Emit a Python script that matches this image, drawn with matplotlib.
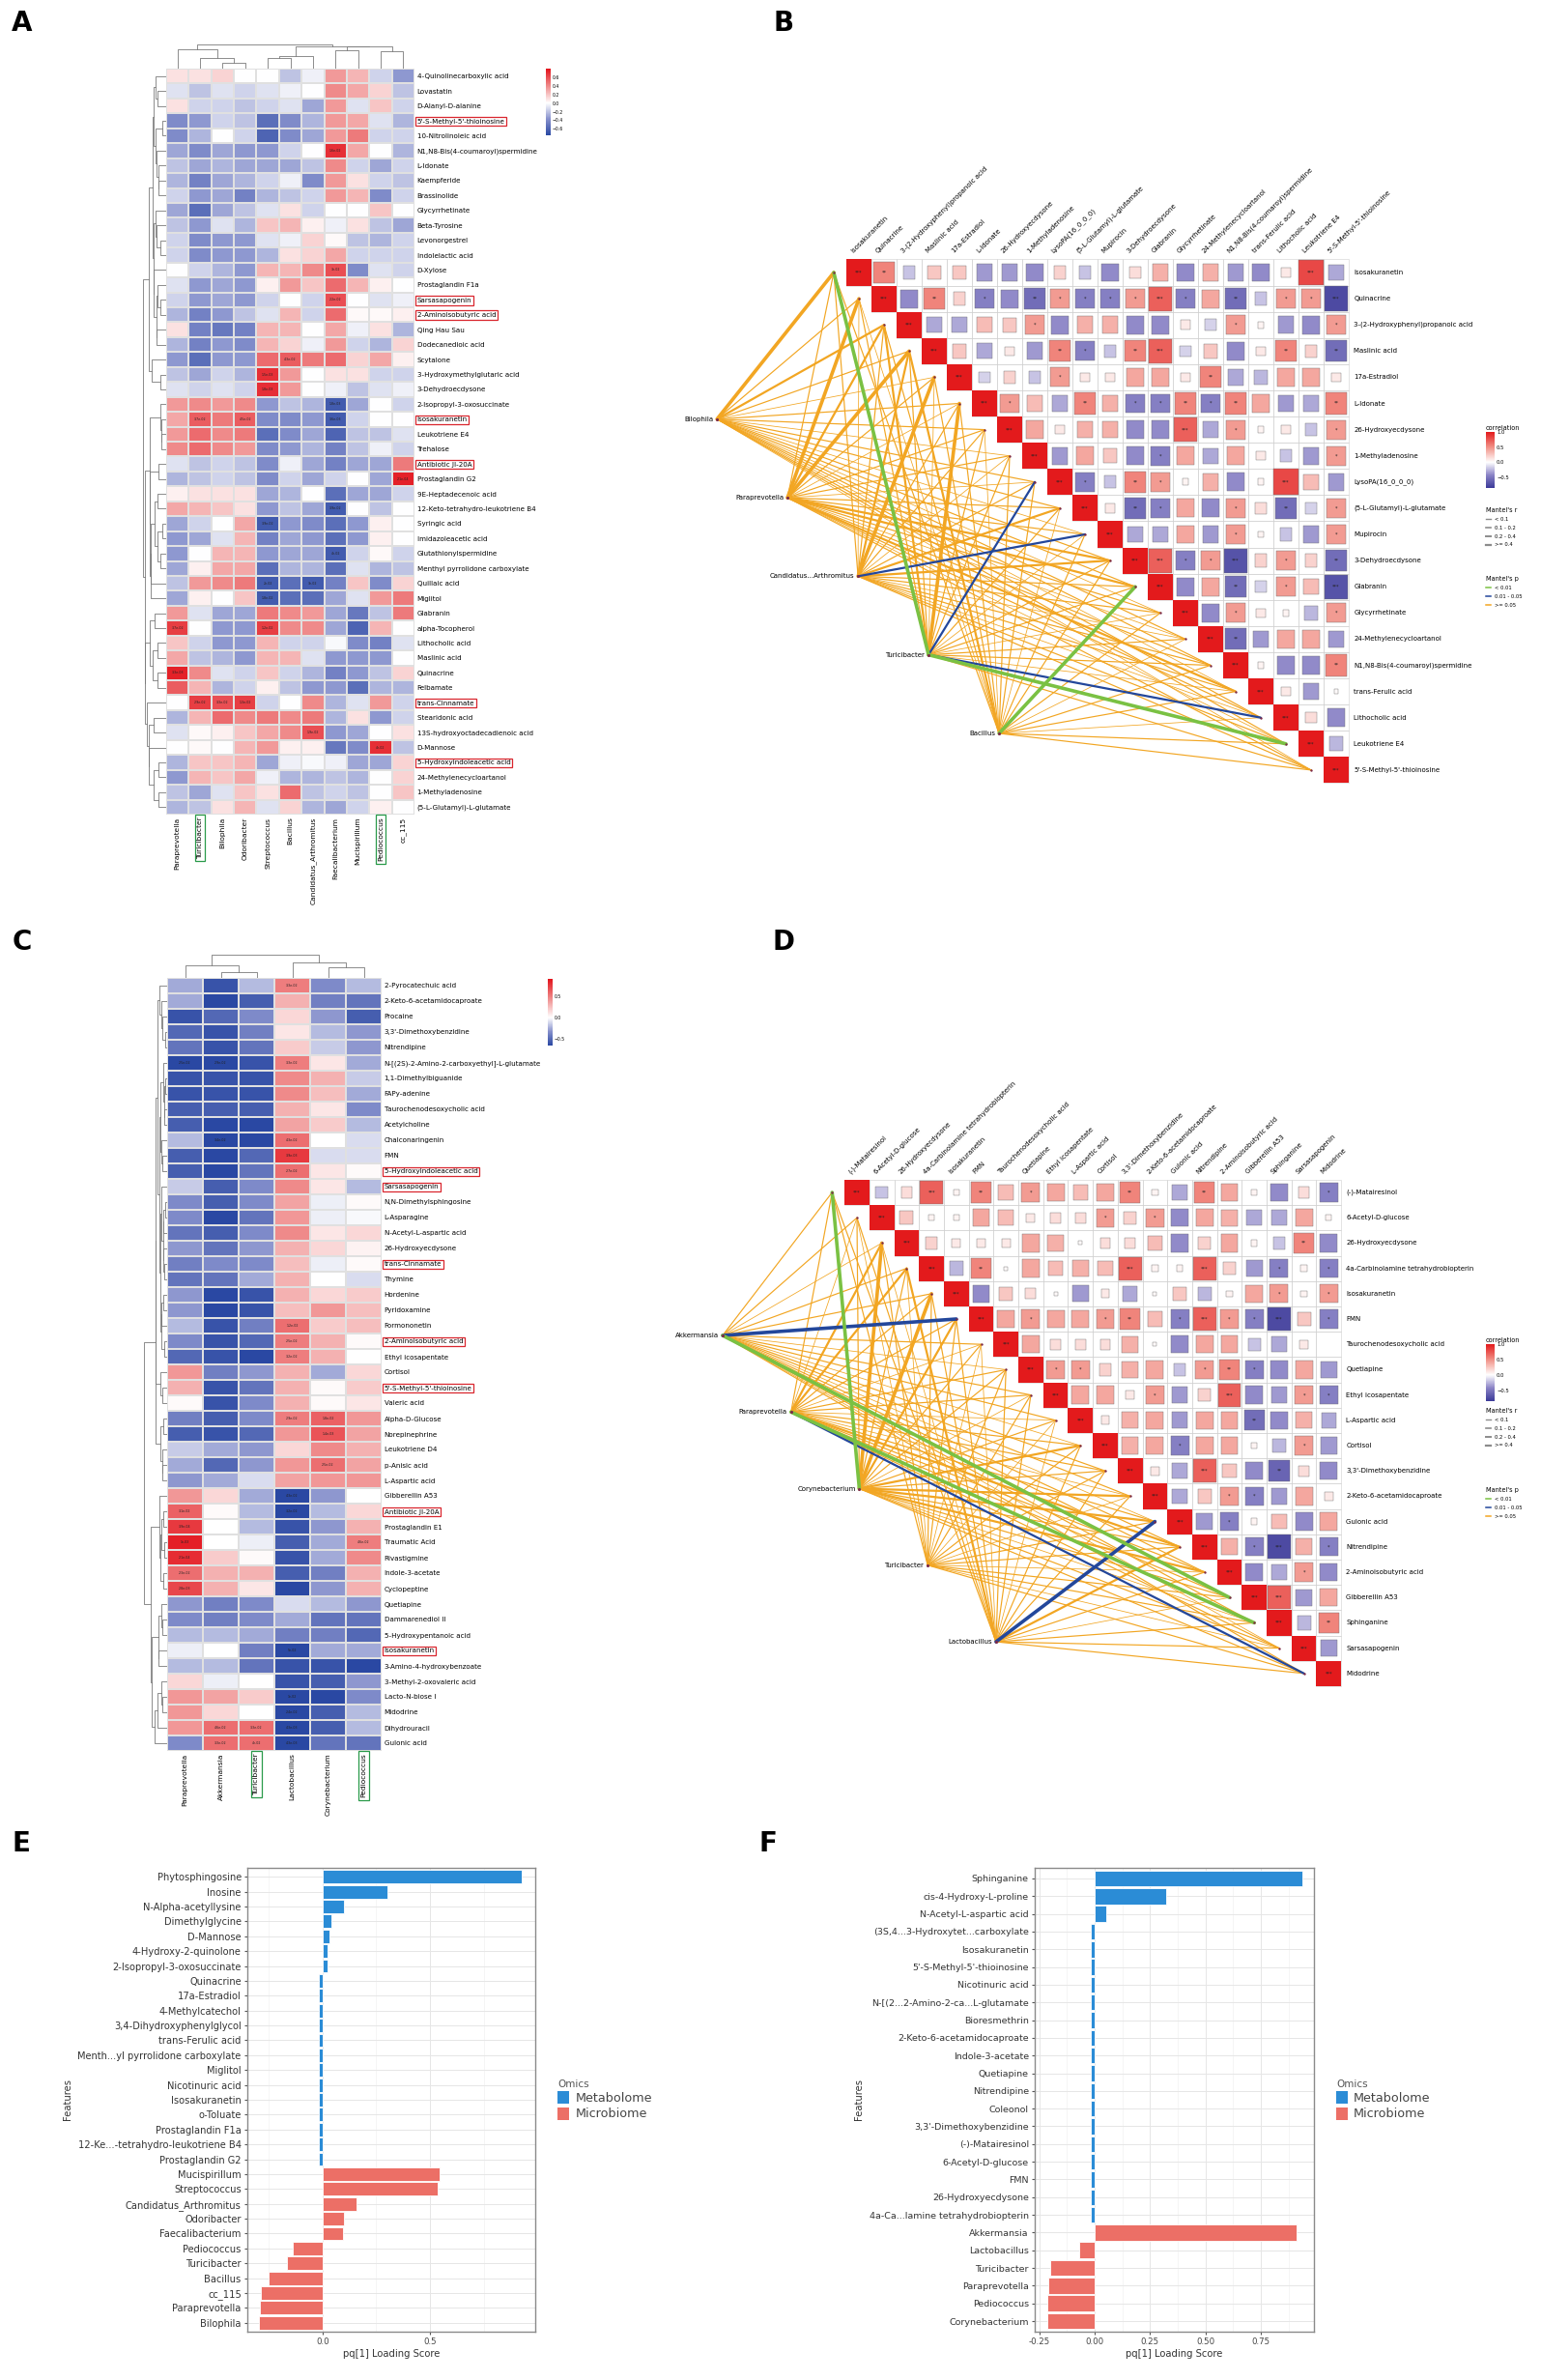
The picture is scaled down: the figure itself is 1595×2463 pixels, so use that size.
import matplotlib
matplotlib.use("Agg")
import matplotlib.pyplot as plt
import numpy as np
from matplotlib.colors import LinearSegmentedColormap, Normalize
from matplotlib.lines import Line2D
from matplotlib.patches import Rectangle, Patch
from matplotlib.cm import ScalarMappable

W, H = 1595, 2463
plt.rcParams['font.family'] = ['DejaVu Sans']

# ---------------- panel A : heatmap -----------------
A_COLS = ["Paraprevotella", "Turicibacter", "Bilophila", "Odoribacter", "Streptococcus",
          "Bacillus", "Candidatus_Arthromitus", "Faecalibacterium", "Mucispirillum",
          "Pediococcus", "cc_115"]
A_ROWS = ["4-Quinolinecarboxylic acid", "Lovastatin", "D-Alanyl-D-alanine",
          "5'-S-Methyl-5'-thioinosine", "10-Nitrolinoleic acid", "N1,N8-Bis(4-coumaroyl)spermidine",
          "L-Idonate", "Kaempferide", "Brassinolide", "Glycyrrhetinate", "Beta-Tyrosine",
          "Levonorgestrel", "Indolelactic acid", "D-Xylose", "Prostaglandin F1a", "Sarsasapogenin",
          "2-Aminoisobutyric acid", "Qing Hau Sau", "Dodecanedioic acid", "Scytalone",
          "3-Hydroxymethylglutaric acid", "3-Dehydroecdysone", "2-Isopropyl-3-oxosuccinate",
          "Isosakuranetin", "Leukotriene E4", "Trehalose", "Antibiotic JI-20A", "Prostaglandin G2",
          "9E-Heptadecenoic acid", "12-Keto-tetrahydro-leukotriene B4", "Syringic acid",
          "Imidazoleacetic acid", "Glutathionylspermidine", "Menthyl pyrrolidone carboxylate",
          "Quillaic acid", "Miglitol", "Glabranin", "alpha-Tocopherol", "Lithocholic acid",
          "Maslinic acid", "Quinacrine", "Felbamate", "trans-Cinnamate", "Stearidonic acid",
          "13S-hydroxyoctadecadienoic acid", "D-Mannose", "5-Hydroxyindoleacetic acid",
          "24-Methylenecycloartanol", "1-Methyladenosine", "(5-L-Glutamyl)-L-glutamate"]
A_VALUES = [
    [0.10, 0.10, 0.15, 0.00, 0.00, -0.20, -0.05, 0.35, 0.25, -0.15, -0.35],
    [-0.10, -0.20, -0.10, -0.15, -0.10, -0.05, 0.00, 0.40, 0.30, 0.15, -0.20],
    [0.10, -0.15, -0.15, -0.20, -0.15, -0.10, -0.30, 0.35, -0.10, 0.20, -0.15],
    [-0.40, -0.35, -0.15, -0.20, -0.55, -0.40, -0.25, 0.35, 0.30, -0.10, -0.25],
    [-0.40, -0.25, 0.00, -0.15, -0.60, -0.40, -0.30, 0.35, 0.45, -0.15, -0.15],
    [-0.30, -0.40, -0.30, -0.35, -0.35, -0.15, 0.00, 0.70, 0.30, 0.00, -0.25],
    [-0.20, -0.30, -0.25, -0.30, -0.30, -0.30, -0.20, 0.40, -0.15, -0.30, -0.15],
    [-0.25, -0.45, -0.30, -0.25, -0.15, -0.05, -0.40, 0.35, 0.10, -0.15, -0.20],
    [-0.15, -0.35, -0.30, -0.45, -0.25, -0.20, -0.15, 0.35, 0.25, -0.40, -0.15],
    [-0.30, -0.55, -0.30, -0.20, -0.10, 0.10, -0.15, 0.00, 0.00, 0.20, 0.00],
    [-0.20, -0.35, -0.10, -0.25, 0.20, 0.25, 0.05, -0.05, 0.10, -0.20, -0.30],
    [-0.15, -0.40, -0.35, -0.35, -0.10, -0.05, 0.15, 0.02, -0.20, -0.25, -0.15],
    [-0.15, -0.40, -0.35, -0.35, -0.25, 0.10, 0.15, 0.30, -0.15, -0.15, -0.15],
    [0.00, -0.15, -0.25, -0.35, 0.25, 0.25, 0.40, 0.60, -0.40, -0.10, -0.15],
    [-0.10, -0.35, -0.30, -0.35, 0.05, 0.35, 0.20, 0.50, 0.25, 0.05, 0.00],
    [-0.15, -0.35, -0.30, -0.35, -0.15, 0.00, -0.15, 0.60, 0.00, -0.10, -0.05],
    [-0.25, -0.45, -0.35, -0.20, -0.10, 0.25, -0.15, 0.50, 0.02, 0.02, 0.05],
    [0.10, -0.45, -0.50, -0.45, 0.25, 0.25, 0.00, 0.30, -0.05, 0.10, -0.25],
    [-0.25, -0.45, -0.35, -0.40, 0.25, 0.15, -0.05, 0.35, -0.15, -0.25, 0.15],
    [-0.35, -0.55, -0.35, -0.35, 0.50, 0.55, 0.45, 0.50, 0.15, 0.30, 0.05],
    [-0.20, -0.30, -0.15, -0.25, 0.70, 0.35, 0.00, 0.10, 0.10, -0.15, -0.15],
    [-0.10, -0.15, -0.10, -0.15, 0.70, 0.35, 0.00, -0.05, -0.20, -0.10, -0.05],
    [0.35, 0.40, 0.35, 0.40, -0.35, -0.20, -0.25, -0.65, -0.30, 0.00, -0.15],
    [0.30, 0.55, 0.45, 0.55, -0.40, -0.40, -0.35, -0.65, -0.15, 0.00, 0.00],
    [0.35, 0.50, 0.40, 0.45, -0.55, -0.40, -0.30, -0.60, -0.20, -0.20, -0.10],
    [0.40, 0.50, 0.40, 0.35, -0.40, -0.35, -0.25, -0.45, -0.20, -0.05, -0.15],
    [-0.10, -0.20, -0.15, -0.20, -0.40, -0.05, -0.30, -0.45, -0.30, -0.30, 0.45],
    [-0.25, -0.20, -0.15, -0.20, -0.40, -0.15, -0.30, -0.15, 0.00, -0.30, 0.75],
    [0.05, 0.10, 0.10, 0.10, -0.30, -0.25, 0.00, -0.55, -0.30, -0.30, -0.15],
    [0.30, 0.25, 0.20, 0.10, -0.35, -0.20, -0.30, -0.65, 0.00, -0.20, 0.00],
    [-0.30, -0.15, 0.00, 0.30, -0.65, -0.35, -0.40, -0.55, -0.35, 0.05, 0.00],
    [-0.35, -0.30, -0.10, 0.25, -0.45, -0.30, -0.35, -0.55, -0.35, 0.05, 0.00],
    [-0.35, 0.00, 0.25, 0.25, -0.35, -0.30, -0.30, -0.65, -0.15, 0.02, -0.15],
    [-0.30, 0.05, 0.30, 0.30, -0.55, -0.25, -0.25, -0.55, -0.10, -0.25, -0.20],
    [-0.20, 0.35, 0.40, 0.45, -0.65, -0.55, -0.65, -0.45, 0.20, -0.40, 0.15],
    [-0.30, 0.05, 0.00, 0.20, -0.65, -0.55, -0.55, -0.30, -0.10, 0.35, 0.45],
    [0.35, -0.10, -0.30, -0.30, 0.45, 0.40, 0.35, -0.30, -0.50, -0.20, 0.45],
    [0.65, 0.00, -0.35, -0.35, 0.65, 0.40, 0.40, -0.30, -0.60, 0.25, 0.00],
    [0.20, -0.15, -0.35, -0.35, 0.25, -0.15, -0.15, -0.02, -0.40, -0.45, -0.10],
    [0.30, -0.20, -0.25, -0.35, 0.25, 0.25, -0.10, -0.35, -0.35, -0.35, 0.00],
    [0.75, 0.40, -0.10, -0.15, 0.20, -0.15, -0.25, -0.45, -0.35, -0.20, 0.15],
    [0.55, 0.25, -0.25, -0.15, 0.05, -0.20, -0.35, -0.35, -0.55, -0.25, -0.25],
    [0.00, 0.65, 0.60, 0.65, -0.15, 0.00, 0.40, -0.25, -0.10, 0.35, -0.15],
    [-0.25, 0.25, 0.50, 0.40, 0.45, 0.40, 0.45, -0.25, 0.10, -0.35, -0.15],
    [-0.10, 0.02, 0.05, 0.20, 0.30, 0.40, 0.60, -0.35, -0.30, 0.00, 0.10],
    [0.00, 0.02, 0.00, 0.25, 0.35, 0.05, 0.05, -0.50, -0.40, 0.70, -0.20],
    [-0.25, 0.20, 0.20, 0.25, -0.30, -0.05, -0.02, -0.05, -0.30, -0.30, 0.15],
    [-0.35, 0.25, 0.20, 0.30, -0.05, -0.25, -0.25, -0.20, -0.25, 0.00, 0.15],
    [-0.20, -0.30, -0.10, 0.20, 0.10, 0.50, -0.20, -0.15, -0.20, 0.00, 0.20],
    [-0.25, -0.20, 0.10, 0.25, -0.10, 0.15, -0.25, -0.30, -0.15, 0.05, 0.00],
]
A_ANNOT = [(5, 7, '1.6e-02'), (13, 7, '3e-02'), (15, 7, '2.2e-02'), (19, 5, '4.3e-02'),
           (20, 4, '1.5e-03'), (21, 4, '1.8e-03'), (22, 7, '1.8e-03'), (23, 1, '3.7e-02'),
           (23, 3, '4.5e-02'), (23, 7, '3.6e-03'), (27, 10, '2.1e-04'), (29, 7, '3.9e-02'),
           (30, 4, '3.9e-02'), (32, 7, '4e-02'), (34, 4, '2e-02'), (34, 6, '3e-02'),
           (35, 4, '1.8e-02'), (37, 0, '3.7e-02'), (37, 4, '1.2e-02'), (40, 0, '3.3e-03'),
           (42, 1, '2.9e-02'), (42, 2, '3.3e-02'), (42, 3, '1.3e-02'), (44, 6, '1.9e-02'),
           (45, 9, '4e-02')]
A_RED = ["5'-S-Methyl-5'-thioinosine", "Sarsasapogenin", "2-Aminoisobutyric acid", "Isosakuranetin",
         "Antibiotic JI-20A", "trans-Cinnamate", "5-Hydroxyindoleacetic acid"]
A_GREEN = ["Turicibacter", "Pediococcus"]

# ---------------- panel C : heatmap -----------------
C_COLS = ["Paraprevotella", "Akkermansia", "Turicibacter", "Lactobacillus", "Corynebacterium", "Pediococcus"]
C_ROWS = ["2-Pyrocatechuic acid", "2-Keto-6-acetamidocaproate", "Procaine", "3,3'-Dimethoxybenzidine",
          "Nitrendipine", "N-[(2S)-2-Amino-2-carboxyethyl]-L-glutamate", "1,1-Dimethylbiguanide",
          "FAPy-adenine", "Taurochenodesoxycholic acid", "Acetylcholine", "Chalconaringenin", "FMN",
          "5-Hydroxyindoleacetic acid", "Sarsasapogenin", "N,N-Dimethylsphingosine", "L-Asparagine",
          "N-Acetyl-L-aspartic acid", "26-Hydroxyecdysone", "trans-Cinnamate", "Thymine", "Hordenine",
          "Pyridoxamine", "Formononetin", "2-Aminoisobutyric acid", "Ethyl icosapentate", "Cortisol",
          "5'-S-Methyl-5'-thioinosine", "Valeric acid", "Alpha-D-Glucose", "Norepinephrine",
          "Leukotriene D4", "p-Anisic acid", "L-Aspartic acid", "Gibberellin A53", "Antibiotic JI-20A",
          "Prostaglandin E1", "Traumatic Acid", "Rivastigmine", "Indole-3-acetate", "Cyclopeptine",
          "Quetiapine", "Dammarenediol II", "5-Hydroxypentanoic acid", "Isosakuranetin",
          "3-Amino-4-hydroxybenzoate", "3-Methyl-2-oxovaleric acid", "Lacto-N-biose I", "Midodrine",
          "Dihydrouracil", "Gulonic acid"]
C_VALUES = [
    [-0.25, -0.60, -0.20, 0.50, -0.35, -0.20],
    [-0.25, -0.65, -0.55, 0.30, -0.40, -0.45],
    [-0.60, -0.50, -0.35, 0.15, -0.30, -0.55],
    [-0.50, -0.60, -0.40, 0.10, -0.20, -0.30],
    [-0.45, -0.60, -0.45, 0.20, -0.15, -0.30],
    [-0.70, -0.70, -0.60, 0.50, 0.10, -0.25],
    [-0.60, -0.60, -0.60, 0.45, 0.30, -0.15],
    [-0.60, -0.60, -0.60, 0.45, 0.25, -0.25],
    [-0.55, -0.55, -0.55, 0.30, 0.10, -0.35],
    [-0.55, -0.65, -0.65, 0.35, 0.20, -0.20],
    [-0.20, -0.70, -0.65, 0.55, 0.00, -0.10],
    [-0.55, -0.65, -0.50, 0.75, -0.10, -0.10],
    [-0.55, -0.65, -0.45, 0.55, 0.10, 0.02],
    [-0.15, -0.55, -0.35, 0.45, 0.10, -0.20],
    [-0.35, -0.55, -0.35, 0.35, -0.05, 0.02],
    [-0.35, -0.65, -0.45, 0.40, -0.05, -0.02],
    [-0.45, -0.55, -0.35, 0.45, 0.10, 0.15],
    [-0.30, -0.45, -0.30, 0.30, 0.15, 0.05],
    [-0.40, -0.35, -0.35, 0.25, -0.05, 0.02],
    [-0.45, -0.45, -0.25, 0.30, 0.00, -0.10],
    [-0.30, -0.65, -0.60, 0.30, 0.15, 0.20],
    [-0.30, -0.65, -0.60, 0.25, 0.40, 0.25],
    [-0.20, -0.60, -0.40, 0.55, 0.20, 0.25],
    [-0.35, -0.60, -0.50, 0.50, 0.30, 0.02],
    [-0.50, -0.60, -0.65, 0.50, 0.30, 0.00],
    [0.40, -0.40, -0.30, 0.30, -0.25, 0.15],
    [0.30, -0.60, -0.45, 0.30, 0.02, 0.20],
    [0.02, -0.60, -0.35, 0.30, 0.02, 0.10],
    [-0.40, -0.55, -0.35, 0.50, 0.60, 0.40],
    [-0.55, -0.60, -0.50, 0.40, 0.65, 0.35],
    [-0.15, -0.25, -0.30, 0.15, 0.45, 0.30],
    [-0.25, -0.50, -0.30, 0.40, 0.55, 0.35],
    [-0.30, -0.25, -0.10, 0.35, 0.40, 0.40],
    [0.40, 0.15, -0.25, -0.65, -0.30, 0.00],
    [0.60, 0.02, -0.20, -0.65, -0.20, 0.15],
    [0.75, 0.00, -0.20, -0.60, -0.30, 0.30],
    [0.85, 0.00, -0.05, -0.55, -0.25, 0.50],
    [0.80, 0.20, 0.02, -0.60, -0.25, 0.45],
    [0.55, 0.30, 0.30, -0.55, -0.40, 0.30],
    [0.70, 0.30, 0.10, -0.65, -0.30, 0.30],
    [-0.30, -0.40, -0.35, -0.10, -0.20, -0.30],
    [-0.35, -0.40, -0.35, -0.25, -0.45, -0.45],
    [-0.20, -0.20, -0.25, -0.40, -0.40, -0.50],
    [-0.05, 0.00, -0.40, -0.65, -0.25, -0.25],
    [-0.20, -0.20, -0.45, -0.60, -0.60, -0.65],
    [0.15, -0.05, 0.00, -0.60, -0.55, -0.30],
    [0.40, 0.35, 0.20, -0.70, -0.65, -0.35],
    [0.40, 0.15, 0.00, -0.70, -0.55, -0.20],
    [0.40, 0.55, 0.55, -0.70, -0.55, -0.20],
    [-0.35, 0.55, 0.55, -0.70, -0.45, -0.45],
]
C_ANNOT = [(0, 3, '3.3e-02'), (5, 0, '2.5e-02'), (5, 1, '2.9e-02'), (5, 3, '3.3e-02'), (10, 1, '3.4e-02'),
           (10, 3, '4.3e-02'), (11, 3, '3.9e-03'), (12, 3, '2.7e-02'), (22, 3, '1.2e-02'),
           (23, 3, '2.5e-02'), (24, 3, '3.2e-02'), (28, 3, '2.9e-02'), (28, 4, '1.8e-02'),
           (29, 4, '1.4e-03'), (31, 4, '2.5e-02'), (33, 3, '4.3e-02'), (34, 0, '3.1e-02'),
           (34, 3, '3.2e-02'), (35, 0, '3.9e-04'), (36, 0, '1e-03'), (36, 5, '4.6e-02'),
           (37, 0, '2.1e-04'), (38, 0, '2.3e-02'), (39, 0, '2.8e-03'), (43, 3, '5e-02'),
           (46, 3, '1e-02'), (47, 3, '2.4e-02'), (48, 1, '4.6e-02'), (48, 2, '3.3e-02'),
           (48, 3, '4.3e-03'), (49, 1, '3.3e-02'), (49, 2, '4e-02'), (49, 3, '4.3e-03')]
C_RED = ["5-Hydroxyindoleacetic acid", "Sarsasapogenin", "trans-Cinnamate", "2-Aminoisobutyric acid",
         "5'-S-Methyl-5'-thioinosine", "Antibiotic JI-20A", "Isosakuranetin"]
C_GREEN = ["Turicibacter", "Pediococcus"]

# ---------------- panel B : correlation + mantel -----------------
B_METAB = ["Isosakuranetin", "Quinacrine", "3-(2-Hydroxyphenyl)propanoic acid", "Maslinic acid",
           "17a-Estradiol", "L-Idonate", "26-Hydroxyecdysone", "1-Methyladenosine", "LysoPA(16_0_0_0)",
           "(5-L-Glutamyl)-L-glutamate", "Mupirocin", "3-Dehydroecdysone", "Glabranin", "Glycyrrhetinate",
           "24-Methylenecycloartanol", "N1,N8-Bis(4-coumaroyl)spermidine", "trans-Ferulic acid",
           "Lithocholic acid", "Leukotriene E4", "5'-S-Methyl-5'-thioinosine"]
B_UPPER = [
    [0.55, -0.2, 0.25, 0.25, -0.35, -0.35, -0.4, 0.2, -0.2, -0.4, 0.15, 0.35, -0.4, 0.35, -0.35, -0.4, 0.1, 0.8, -0.3],
    [-0.4, 0.55, 0.2, -0.45, -0.4, -0.55, 0.45, -0.45, -0.45, 0.45, 0.7, -0.45, 0.4, -0.55, -0.2, 0.45, 0.45, -0.75],
    [-0.3, -0.3, 0.3, 0.25, 0.45, -0.4, 0.35, 0.35, -0.4, -0.4, 0.1, -0.15, 0.45, 0.05, -0.35, -0.4, 0.45],
    [0.25, -0.3, 0.1, -0.35, 0.55, -0.45, -0.2, 0.55, 0.7, -0.15, 0.25, -0.4, 0.1, 0.55, 0.2, -0.55],
    [-0.15, 0.2, -0.2, 0.45, 0.1, 0.1, 0.4, 0.4, 0.1, 0.55, -0.3, -0.25, 0.4, 0.4, 0.1],
    [0.45, 0.3, -0.3, 0.55, 0.35, -0.45, -0.45, 0.55, -0.45, 0.55, 0.4, -0.35, -0.3, 0.55],
    [0.4, 0.1, 0.35, 0.35, -0.4, -0.4, 0.7, -0.3, 0.45, 0.05, 0.1, -0.2, 0.45],
    [-0.35, 0.4, 0.25, -0.4, -0.45, 0.4, -0.3, 0.4, 0.1, -0.2, -0.35, 0.45],
    [-0.45, -0.2, 0.55, 0.45, 0.05, 0.35, -0.4, 0.05, 0.8, 0.3, -0.35],
    [0.1, -0.55, -0.45, 0.4, -0.4, 0.45, 0.15, -0.55, -0.15, 0.45],
    [-0.3, -0.3, 0.4, -0.35, 0.45, 0.05, -0.2, -0.35, 0.45],
    [0.7, -0.45, 0.45, -0.7, 0.2, 0.45, 0.2, -0.55],
    [-0.4, 0.4, -0.55, -0.15, 0.45, 0.3, -0.7],
    [-0.4, 0.45, 0.1, 0.05, -0.25, 0.45],
    [-0.55, -0.35, 0.4, 0.4, -0.35],
    [0.05, -0.4, -0.4, 0.55],
    [0.1, -0.35, 0.02],
    [0.15, -0.4],
    [-0.25],
]
B_TAXA = ["Bilophila", "Paraprevotella", "Candidatus...Arthromitus", "Turicibacter", "Bacillus"]
# Mantel's r class per taxon/metabolite: 0 <0.1, 1 0.1-0.2, 2 0.2-0.4, 3 >=0.4
B_MANTEL_R = [
    [3, 1, 2, 1, 0, 1, 1, 0, 1, 1, 0, 1, 1, 0, 1, 1, 0, 1, 1, 0],
    [1, 3, 2, 3, 1, 0, 1, 1, 0, 1, 1, 2, 2, 1, 0, 1, 2, 1, 0, 1],
    [1, 0, 1, 2, 3, 1, 1, 0, 1, 2, 2, 2, 1, 1, 0, 1, 1, 0, 1, 1],
    [3, 1, 2, 1, 0, 3, 1, 1, 2, 1, 0, 1, 1, 0, 1, 1, 0, 2, 3, 1],
    [1, 0, 1, 2, 1, 1, 0, 1, 1, 0, 1, 1, 3, 1, 0, 1, 1, 0, 1, 1],
]
# significant Mantel links: (taxon, metabolite, 0 = p<0.01, 1 = 0.01-0.05)
B_MANTEL_SIG = [(3, 0, 0), (3, 8, 1), (3, 17, 1), (3, 18, 0), (2, 10, 1), (4, 12, 0)]

# ---------------- panel D : correlation + mantel -----------------
D_METAB = ["(-)-Matairesinol", "6-Acetyl-D-glucose", "26-Hydroxyecdysone",
           "4a-Carbinolamine tetrahydrobiopterin", "Isosakuranetin", "FMN", "Taurochenodesoxycholic acid",
           "Quetiapine", "Ethyl icosapentate", "L-Aspartic acid", "Cortisol", "3,3'-Dimethoxybenzidine",
           "2-Keto-6-acetamidocaproate", "Gulonic acid", "Nitrendipine", "2-Aminoisobutyric acid",
           "Gibberellin A53", "Sphinganine", "Sarsasapogenin", "Midodrine"]
D_UPPER = [
    [-0.2, 0.15, 0.7, 0.05, 0.55, 0.3, 0.45, 0.4, 0.3, 0.4, 0.55, 0.05, -0.3, 0.55, 0.4, 0.05, -0.4, 0.15, -0.45],
    [0.25, 0.05, 0.05, 0.4, 0.3, 0.1, 0.15, 0.15, 0.45, 0.2, 0.45, -0.4, 0.4, 0.35, -0.3, -0.3, 0.4, 0.05],
    [0.2, 0.1, 0.1, 0.1, 0.4, 0.35, 0.02, 0.15, 0.15, 0.3, -0.4, 0.2, 0.4, 0.05, -0.2, 0.55, -0.4],
    [-0.25, 0.55, 0.02, 0.4, 0.3, 0.35, 0.3, 0.7, 0.05, 0.05, 0.7, 0.2, -0.35, -0.45, 0.05, -0.45],
    [-0.4, 0.25, 0.15, 0.02, -0.35, 0.1, -0.3, 0.02, 0.25, -0.25, 0.05, 0.4, 0.45, 0.05, 0.45],
    [0.4, 0.45, 0.4, 0.4, 0.45, 0.55, 0.3, -0.45, 0.7, 0.45, -0.45, -0.75, 0.25, -0.45],
    [0.4, 0.15, 0.15, 0.15, 0.35, 0.02, -0.4, 0.4, 0.4, -0.2, -0.3, 0.1, 0.0],
    [0.45, 0.45, 0.2, 0.35, 0.4, -0.2, 0.45, 0.55, -0.45, -0.4, 0.4, -0.35],
    [0.4, 0.4, 0.1, 0.45, -0.35, 0.2, 0.7, -0.4, -0.35, 0.45, -0.45],
    [0.1, 0.35, 0.4, -0.35, 0.4, 0.4, -0.55, -0.4, 0.35, -0.3],
    [0.35, 0.4, -0.45, 0.4, 0.4, 0.05, -0.25, 0.45, -0.35],
    [0.1, -0.3, 0.7, 0.25, -0.4, -0.6, 0.15, -0.4],
    [-0.3, 0.25, 0.45, -0.45, -0.35, 0.4, 0.1],
    [-0.35, -0.45, 0.05, 0.3, -0.4, 0.4],
    [0.35, -0.45, -0.75, 0.35, -0.45],
    [-0.4, -0.3, 0.45, -0.4],
    [0.7, -0.35, 0.4],
    [-0.25, 0.55],
    [-0.35],
]
D_TAXA = ["Akkermansia", "Paraprevotella", "Corynebacterium", "Turicibacter", "Lactobacillus"]
D_MANTEL_R = [
    [1, 1, 0, 1, 1, 3, 1, 0, 1, 1, 0, 1, 1, 0, 1, 1, 3, 1, 0, 1],
    [1, 0, 2, 2, 1, 1, 0, 1, 1, 0, 1, 1, 0, 1, 2, 1, 1, 3, 1, 2],
    [3, 1, 3, 1, 3, 2, 1, 1, 0, 1, 2, 1, 2, 2, 1, 2, 1, 0, 1, 1],
    [1, 0, 1, 0, 1, 1, 0, 1, 1, 0, 1, 1, 0, 1, 1, 0, 1, 1, 0, 1],
    [1, 1, 0, 2, 1, 1, 0, 1, 1, 0, 1, 1, 1, 3, 2, 1, 0, 1, 1, 1],
]
D_MANTEL_SIG = [(2, 0, 0), (0, 16, 0), (1, 17, 0), (0, 5, 1), (1, 19, 1), (4, 13, 1)]

# ---------------- panels E / F : loading scores -----------------
E_FEATURES = ["Phytosphingosine", "Inosine", "N-Alpha-acetyllysine", "Dimethylglycine", "D-Mannose",
              "4-Hydroxy-2-quinolone", "2-Isopropyl-3-oxosuccinate", "Quinacrine", "17a-Estradiol",
              "4-Methylcatechol", "3,4-Dihydroxyphenylglycol", "trans-Ferulic acid",
              "Menth...yl pyrrolidone carboxylate", "Miglitol", "Nicotinuric acid", "Isosakuranetin",
              "o-Toluate", "Prostaglandin F1a", "12-Ke...-tetrahydro-leukotriene B4", "Prostaglandin G2",
              "Mucispirillum", "Streptococcus", "Candidatus_Arthromitus", "Odoribacter", "Faecalibacterium",
              "Pediococcus", "Turicibacter", "Bacillus", "cc_115", "Paraprevotella", "Bilophila"]
E_SCORES = [0.928, 0.304, 0.098, 0.040, 0.034, 0.022, 0.022, -0.018, -0.018, -0.018, -0.018, -0.018,
            -0.018, -0.018, -0.018, -0.018, -0.018, -0.018, -0.018, -0.018,
            0.544, 0.538, 0.158, 0.098, 0.094, -0.140, -0.166, -0.250, -0.288, -0.292, -0.294]
E_N_METAB = 20

F_FEATURES = ["Sphinganine", "cis-4-Hydroxy-L-proline", "N-Acetyl-L-aspartic acid",
              "(3S,4...3-Hydroxytet...carboxylate", "Isosakuranetin", "5'-S-Methyl-5'-thioinosine",
              "Nicotinuric acid", "N-[(2...2-Amino-2-ca...L-glutamate", "Bioresmethrin",
              "2-Keto-6-acetamidocaproate", "Indole-3-acetate", "Quetiapine", "Nitrendipine", "Coleonol",
              "3,3'-Dimethoxybenzidine", "(-)-Matairesinol", "6-Acetyl-D-glucose", "FMN",
              "26-Hydroxyecdysone", "4a-Ca...lamine tetrahydrobiopterin",
              "Akkermansia", "Lactobacillus", "Turicibacter", "Paraprevotella", "Pediococcus", "Corynebacterium"]
F_SCORES = [0.938, 0.323, 0.053, -0.018, -0.018, -0.018, -0.018, -0.018, -0.018, -0.018, -0.018,
            -0.018, -0.018, -0.018, -0.018, -0.018, -0.018, -0.018, -0.018, -0.018,
            0.910, -0.071, -0.200, -0.209, -0.213, -0.213]
F_N_METAB = 20

HM_COLORS = ['#2a48a3', '#8690cc', '#ffffff', '#ef8a8a', '#e3121b']
CORR_COLORS = ['#3b3a98', '#8a83c6', '#ffffff', '#f19086', '#e31a1c']
P_COLORS = ['#7ac143', '#23479b', '#f2a623']
R_WIDTHS = [0.55, 0.85, 1.6, 2.6]
OMICS_COLORS = {'Metabolome': '#2b8cd6', 'Microbiome': '#ec6f66'}

fig = plt.figure(figsize=(W / 100, H / 100), dpi=100)


def px_axes(x0, y0, x1, y1):
    return fig.add_axes([x0 / W, 1 - y1 / H, (x1 - x0) / W, (y1 - y0) / H])


def make_cmap(vmin, vmax, colors):
    z = -vmin / (vmax - vmin)
    stops = [0, z / 2, z, z + (1 - z) / 2, 1]
    return LinearSegmentedColormap.from_list('c', list(zip(stops, colors)))


def adjacent_tree(X):
    # average-linkage clustering that only joins neighbouring groups (keeps the shown order)
    X = np.asarray(X, float)
    n = len(X)
    dist = np.sqrt(((X[:, None, :] - X[None, :, :]) ** 2).sum(-1))
    groups = [[i] for i in range(n)]
    pos = [i + 0.5 for i in range(n)]
    hts = [0.0] * n
    links = []
    while len(groups) > 1:
        gaps = [dist[np.ix_(groups[k], groups[k + 1])].mean() for k in range(len(groups) - 1)]
        k = int(np.argmin(gaps))
        h = max(gaps[k], hts[k], hts[k + 1])
        links.append((pos[k], hts[k], pos[k + 1], hts[k + 1], h))
        groups[k:k + 2] = [groups[k] + groups[k + 1]]
        pos[k:k + 2] = [(pos[k] + pos[k + 1]) / 2]
        hts[k:k + 2] = [h]
    return links, hts[0]


def draw_heatmap(box, values, rows, cols, red_rows, green_cols, annots, vmin, vmax,
                 cbar_box, cbar_ticks, row_dendro_w, col_dendro_h):
    x0, y0, x1, y1 = box
    data = np.array(values)
    nr, nc = data.shape
    cmap = make_cmap(vmin, vmax, HM_COLORS)
    norm = Normalize(vmin, vmax)
    ax = px_axes(x0, y0, x1, y1)
    ax.pcolormesh(np.arange(nc + 1), np.arange(nr + 1), data, cmap=cmap, norm=norm,
                  edgecolors='#e0e0e0', linewidth=0.3)
    ax.set_xlim(0, nc)
    ax.set_ylim(nr, 0)
    ax.set_yticks(np.arange(nr) + 0.5)
    ax.set_yticklabels(rows, fontsize=5.1)
    ax.yaxis.tick_right()
    ax.set_xticks(np.arange(nc) + 0.5)
    ax.set_xticklabels(cols, fontsize=5.4, rotation=90)
    ax.tick_params(length=0, pad=1.8)
    for s in ax.spines.values():
        s.set_visible(False)
    for lab in ax.get_yticklabels():
        if lab.get_text() in red_rows:
            lab.set_bbox(dict(boxstyle='square,pad=0.25', fc='none', ec='#d9262e', lw=0.9))
    for lab in ax.get_xticklabels():
        if lab.get_text() in green_cols:
            lab.set_bbox(dict(boxstyle='square,pad=0.3', fc='none', ec='#2a9a4a', lw=0.9))
    for r, c, t in annots:
        ax.text(c + 0.5, r + 0.5, t, fontsize=2.3, ha='center', va='center', color='#222222')

    # row dendrogram
    axr = px_axes(x0 - row_dendro_w, y0, x0, y1)
    links, top = adjacent_tree(data)
    for p1, h1, p2, h2, h in links:
        axr.plot([h1, h, h, h2], [p1, p1, p2, p2], color='#7a7a7a', lw=0.6)
    axr.set_xlim(top * 1.01, 0)
    axr.set_ylim(nr, 0)
    axr.axis('off')

    # column dendrogram
    axc = px_axes(x0, y0 - col_dendro_h, x1, y0)
    links, top = adjacent_tree(data.T)
    for p1, h1, p2, h2, h in links:
        axc.plot([p1, p1, p2, p2], [h1, h, h, h2], color='#7a7a7a', lw=0.6)
    axc.set_xlim(0, nc)
    axc.set_ylim(0, top * 1.01)
    axc.axis('off')

    cax = px_axes(*cbar_box)
    cb = fig.colorbar(ScalarMappable(norm=norm, cmap=cmap), cax=cax, ticks=cbar_ticks)
    cb.outline.set_visible(False)
    cax.tick_params(labelsize=3.3, length=0, pad=1)


def draw_corr(box, xc0, dx, yc0, dy, names, upper, taxa, node_u, node_v, mantel_r, mantel_sig,
              cbar_box, leg_r_xy, leg_p_xy):
    x0, y0, x1, y1 = box
    ax = px_axes(*box)
    ax.set_xlim((x0 - xc0) / dx, (x1 - xc0) / dx)
    ax.set_ylim((y1 - yc0) / dy, (y0 - yc0) / dy)
    ax.axis('off')
    n = len(names)
    R = np.eye(n)
    for i, row in enumerate(upper):
        for k, r in enumerate(row):
            R[i, i + 1 + k] = r
    cmap = make_cmap(-0.85, 1, CORR_COLORS)
    norm = Normalize(-0.85, 1)

    pcls = [[2] * n for _ in taxa]
    for t, m, c in mantel_sig:
        pcls[t][m] = c
    for cls in (2, 1, 0):
        for t in range(len(taxa)):
            for m in range(n):
                if pcls[t][m] != cls:
                    continue
                ax.plot([node_u[t], m - 1], [node_v[t], m], color=P_COLORS[cls],
                        lw=R_WIDTHS[mantel_r[t][m]], zorder=1, solid_capstyle='round')

    for i in range(n):
        for j in range(i, n):
            ax.add_patch(Rectangle((j - 0.5, i - 0.5), 1, 1, fc='none', ec='#cfcfcf', lw=0.4, zorder=2))
            r = R[i, j]
            s = 1.0 if i == j else min(1.0, 1.1 * np.sqrt(abs(r)))
            ax.add_patch(Rectangle((j - s / 2, i - s / 2), s, s, fc=cmap(norm(r)),
                                   ec='none' if i == j else '#6e6e6e', lw=0.3, zorder=3))
            a = abs(r)
            stars = '***' if a >= 0.65 else '**' if a >= 0.5 else '*' if a >= 0.42 else ''
            if stars:
                ax.text(j, i, stars, fontsize=3.6, ha='center', va='center', color='#222222', zorder=4)
        ax.text(n - 0.5 + 0.2, i, names[i], fontsize=5.0, ha='left', va='center')
        ax.text(i - 0.2, -0.7, names[i], fontsize=5.0, ha='left', va='bottom',
                rotation=45, rotation_mode='anchor')

    ax.scatter(np.arange(n) - 1, np.arange(n), s=3, color='#7d2a48', zorder=5, linewidths=0)
    ax.scatter(node_u, node_v, s=5, color='#7d2a48', zorder=5, linewidths=0)
    for t, name in enumerate(taxa):
        ax.text(node_u[t] - 0.15, node_v[t], name, fontsize=5.0, ha='right', va='center')

    cax = px_axes(*cbar_box)
    cb = fig.colorbar(ScalarMappable(norm=norm, cmap=cmap), cax=cax, ticks=[-0.5, 0.0, 0.5, 1.0])
    cb.outline.set_visible(False)
    cax.tick_params(labelsize=3.8, length=0, pad=1.5)
    cax.set_title('correlation', fontsize=4.7, loc='left', pad=1.5)

    r_handles = [Line2D([0], [0], color='#8c8c8c', lw=w) for w in (1.0, 1.2, 1.4, 1.6)]
    fig.legend(r_handles, ['< 0.1', '0.1 - 0.2', '0.2 - 0.4', '>= 0.4'], title="Mantel's r",
               loc='upper left', bbox_to_anchor=(leg_r_xy[0] / W, 1 - leg_r_xy[1] / H), frameon=False,
               fontsize=3.8, title_fontsize=4.7, handlelength=1.1, labelspacing=0.75, borderpad=0,
               handletextpad=0.6, alignment='left')
    p_handles = [Line2D([0], [0], color=c, lw=1.1) for c in P_COLORS]
    fig.legend(p_handles, ['< 0.01', '0.01 - 0.05', '>= 0.05'], title="Mantel's p",
               loc='upper left', bbox_to_anchor=(leg_p_xy[0] / W, 1 - leg_p_xy[1] / H), frameon=False,
               fontsize=3.8, title_fontsize=4.7, handlelength=1.1, labelspacing=0.75, borderpad=0,
               handletextpad=0.6, alignment='left')


def draw_loading(box, feats, scores, n_metab, xlim, xticks, fmt, minor, fsize):
    ax = px_axes(*box)
    y = np.arange(len(feats))
    omics = ['Metabolome' if k < n_metab else 'Microbiome' for k in range(len(feats))]
    ax.barh(y, scores, height=0.9, color=[OMICS_COLORS[o] for o in omics],
            edgecolor='white', linewidth=0.6, zorder=3)
    ax.set_yticks(y)
    ax.set_yticklabels(feats)
    ax.set_ylim(len(feats) - 0.4, -0.6)
    ax.set_xlim(*xlim)
    ax.set_xticks(xticks)
    ax.set_xticklabels([fmt % t for t in xticks])
    ax.set_xticks(minor, minor=True)
    ax.grid(True, which='major', color='#e6e6e6', lw=0.7, zorder=0)
    ax.grid(True, which='minor', axis='x', color='#f2f2f2', lw=0.5, zorder=0)
    ax.set_axisbelow(True)
    ax.tick_params(which='minor', length=0)
    ax.tick_params(which='major', length=2.5, color='#555555', labelsize=fsize, labelcolor='#333333', pad=2)
    ax.tick_params(axis='x', labelsize=6.2, labelcolor='#444444')
    for s in ax.spines.values():
        s.set_color('#8a8a8a')
        s.set_linewidth(1.0)
    ax.set_xlabel('pq[1] Loading Score', fontsize=7.2, color='#333333', labelpad=2)
    ax.set_ylabel('Features', fontsize=7.2, color='#333333', labelpad=4)
    handles = [Patch(fc=OMICS_COLORS[k], label=k) for k in ['Metabolome', 'Microbiome']]
    leg = ax.legend(handles=handles, title='Omics', loc='center left', bbox_to_anchor=(1.04, 0.5),
                    frameon=False, fontsize=9.2, title_fontsize=7.5, handlelength=0.9, handleheight=1.2,
                    handletextpad=0.5, labelspacing=0.2, alignment='left')
    leg.get_title().set_color('#555555')
    for t in leg.get_texts():
        t.set_color('#444444')


# A
draw_heatmap((172, 71, 429, 843), A_VALUES, A_ROWS, A_COLS, A_RED, A_GREEN, A_ANNOT, -0.75, 0.8,
             (565, 71, 570, 140), [-0.6, -0.4, -0.2, 0, 0.2, 0.4, 0.6], 24, 25)
# C
draw_heatmap((173, 1012, 395, 1812), C_VALUES, C_ROWS, C_COLS, C_RED, C_GREEN, C_ANNOT, -0.65, 0.9,
             (567, 1013, 572, 1082), [-0.5, 0, 0.5], 24, 24)
# B
draw_corr((690, 150, 1530, 830), 889, 26.0, 282, 27.1, B_METAB, B_UPPER, B_TAXA,
          np.linspace(-5.65, 5.58, 5), np.linspace(5.6, 17.6, 5), B_MANTEL_R, B_MANTEL_SIG,
          (1538, 447, 1547, 505), (1535, 522), (1535, 593))
# D
draw_corr((690, 1095, 1530, 1775), 887, 25.7, 1234, 26.2, D_METAB, D_UPPER, D_TAXA,
          np.linspace(-5.41, 5.6, 5), np.linspace(5.65, 17.75, 5), D_MANTEL_R, D_MANTEL_SIG,
          (1538, 1391, 1547, 1450), (1535, 1454), (1535, 1536))
# E, F
draw_loading((256, 1933, 554, 2413), E_FEATURES, E_SCORES, E_N_METAB, (-0.35, 0.99),
             [0.0, 0.5], '%.1f', [-0.25, 0.25, 0.75], 7.1)
draw_loading((1071, 1933, 1360, 2413), F_FEATURES, F_SCORES, F_N_METAB, (-0.27, 0.99),
             [-0.25, 0.0, 0.25, 0.5, 0.75], '%.2f', [-0.125, 0.125, 0.375, 0.625, 0.875], 6.8)

for letter, x, y in [('A', 23, 24), ('B', 811, 24), ('C', 23, 975), ('D', 811, 975),
                     ('E', 22, 1908), ('F', 795, 1908)]:
    fig.text(x / W, 1 - y / H, letter, fontsize=20, fontweight='bold', ha='center', va='center')

fig.savefig('out.png', dpi=100)
